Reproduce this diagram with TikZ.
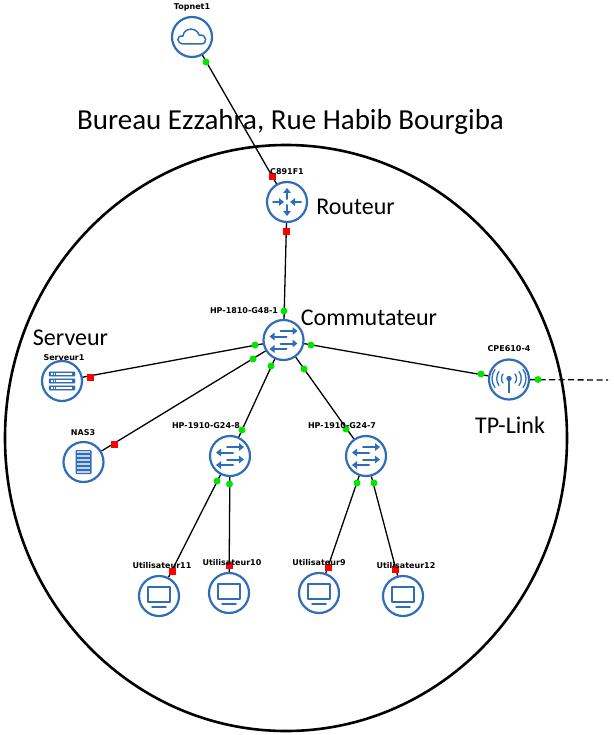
\documentclass[tikz,border=0pt]{standalone}
\usepackage{fontspec}
\setmainfont{Carlito}
\newfontfamily\labfont{DejaVu Sans}
\usetikzlibrary{arrows.meta}
\definecolor{ringblue}{HTML}{2F6DB8}
\tikzset{
  x=1pt,y=-1pt,
  device/.style={circle,draw=ringblue,fill=white,line width=2.2pt,minimum size=40pt,inner sep=0pt},
  link/.style={draw=black,line width=1.3pt},
  up/.style={circle,fill=green!90!black,draw=none,minimum size=7pt,inner sep=0pt},
  down/.style={rectangle,fill=red,draw=none,minimum size=7pt,inner sep=0pt},
  tag/.style={font=\labfont\bfseries\fontsize{8}{9}\selectfont,inner sep=0pt},
  big/.style={font=\fontsize{24}{28}\selectfont,inner sep=0pt},
  ico/.style={draw=ringblue,line width=1.5pt,line cap=round,line join=round},
  tip/.style={-{Triangle[length=5pt,width=7.5pt]},ringblue},
  pics/cloudico/.style={code={
    \draw[ico] (-8,7) .. controls (-16,7) and (-16,-2) .. (-9,-1)
      .. controls (-8,-10) and (5,-10) .. (7,-2)
      .. controls (15,-3) and (16,7) .. (9,7) -- cycle;}},
  pics/routerico/.style={code={
    \draw[ico,tip,line width=2pt] (0,-3) -- (0,-14);
    \draw[ico,tip,line width=2pt] (0,3) -- (0,14);
    \draw[ico,tip,line width=2pt] (-14,0) -- (-3,0);
    \draw[ico,tip,line width=2pt] (14,0) -- (3,0);}},
  pics/switchico/.style={code={
    \draw[ico,tip,line width=2pt] (-3,-9) -- (14,-9);
    \draw[ico,tip,line width=2pt] (3,-3.5) -- (-14,-3.5);
    \draw[ico,tip,line width=2pt] (-3,3.5) -- (14,3.5);
    \draw[ico,tip,line width=2pt] (3,9) -- (-14,9);}},
  pics/serverico/.style={code={
    \foreach \yy in {-7,0,7}{
      \draw[ringblue,fill=ringblue,rounded corners=.6pt] (-13,\yy-2.2) rectangle (13,\yy+2.2);
      \fill[white] (-6,\yy-.8) rectangle (10,\yy+.8);
      \fill[white] (-11,\yy-.8) rectangle (-9.5,\yy+.8);
      \fill[white] (-8.5,\yy-.8) rectangle (-7,\yy+.8);}}},
  pics/nasico/.style={code={
    \fill[ringblue,rounded corners=.8pt] (-8,-12) rectangle (8,12);
    \foreach \yy in {-10,-6,-2,2,6,10}{\fill[white!70!ringblue] (-6.5,\yy-1.2) rectangle (6.5,\yy+1.2);}}},
  pics/monitorico/.style={code={
    \draw[ico] (-11,-9) rectangle (11,6);
    \draw[ico] (-7,11) -- (7,11);}},
  pics/wifiico/.style={code={
    \fill[ringblue] (0,-1) circle (2.7);
    \draw[ringblue,line width=2pt] (0,-1) -- (0,13);
    \foreach \rr/\hh/\cc in {6/4.5/8,10/7/13,14/9/18}{
      \draw[ico,line width=1.3pt] (\rr,-1-\hh) .. controls (\cc,-1-\hh/2) and (\cc,-1+\hh/2) .. (\rr,-1+\hh);
      \draw[ico,line width=1.3pt] (-\rr,-1-\hh) .. controls (-\cc,-1-\hh/2) and (-\cc,-1+\hh/2) .. (-\rr,-1+\hh);}}}
}
\begin{document}
\begin{tikzpicture}
\useasboundingbox (0,0) rectangle (613,735);
% enclosing site outline
\draw[black,line width=2.6pt] (286,438) ellipse [x radius=281,y radius=293];
% devices
\node[device] (topnet) at (192,37) {};
\node[device] (router) at (287,202) {};
\node[device] (core) at (283.5,340) {};
\node[device] (srv) at (62,381) {};
\node[device] (nas) at (83.5,462) {};
\node[device] (swa) at (230,456) {};
\node[device] (swb) at (366,456) {};
\node[device] (cpe) at (509,379.5) {};
\node[device] (ua) at (159,596) {};
\node[device] (ub) at (229,593) {};
\node[device] (uc) at (319,593) {};
\node[device] (ud) at (403,596) {};
\coordinate (wan) at (608,380);
% connectors
\path[link] (topnet) -- (router);
\path[link] (router) -- (core);
\path[link] (core) -- (srv);
\path[link] (core) -- (nas);
\path[link] (core) -- (swa);
\path[link] (core) -- (swb);
\path[link] (core) -- (cpe);
\path[link] (swa) -- (ua);
\path[link] (swa) -- (ub);
\path[link] (swb) -- (uc);
\path[link] (swb) -- (ud);
\draw[black,line width=1.3pt,dash pattern=on 6pt off 3.5pt] (cpe) -- (wan);
% icons
\pic at (topnet) {cloudico};
\pic at (router) {routerico};
\pic at (core) {switchico};
\pic at (swa) {switchico};
\pic at (swb) {switchico};
\pic at (srv) {serverico};
\pic at (nas) {nasico};
\pic at (ua) {monitorico};
\pic at (ub) {monitorico};
\pic at (uc) {monitorico};
\pic at (ud) {monitorico};
\pic at (cpe) {wifiico};
% port markers
\node[up] (p1) at (206,62) {};
\node[down] (p2) at (272.5,177) {};
\node[down] (p3) at (286,231) {};
\node[up] (p4) at (284,311) {};
\node[up] (p5) at (255,345) {};
\node[down] (p6) at (90,377) {};
\node[up] (p7) at (253,359) {};
\node[down] (p8) at (114,444) {};
\node[up] (p9) at (271,366) {};
\node[up] (p10) at (242,430) {};
\node[up] (p11) at (304,369) {};
\node[up] (p12) at (346,429) {};
\node[up] (p13) at (311,345) {};
\node[up] (p14) at (481,374) {};
\node[up] (p15) at (538,379.5) {};
\node[up] (p16) at (217,481) {};
\node[up] (p17) at (229.5,484) {};
\node[up] (p18) at (357,483) {};
\node[up] (p19) at (374,483) {};
\node[down] (p20) at (172,571) {};
\node[down] (p21) at (229,565) {};
\node[down] (p22) at (328,567) {};
\node[down] (p23) at (395,569) {};
% device labels
\node[tag] (t1) at (192,7) {Topnet1};
\node[tag] (t2) at (287,172) {C891F1};
\node[tag] (t3) at (244,310.5) {HP-1810-G48-1};
\node[tag] (t4) at (64,357.5) {Serveur1};
\node[tag] (t5) at (83,433) {NAS3};
\node[tag] (t6) at (206,425.5) {HP-1910-G24-8};
\node[tag] (t7) at (342,425.5) {HP-1910-G24-7};
\node[tag] (t8) at (509,349) {CPE610-4};
\node[tag] (t9) at (162,565.5) {Utilisateur11};
\node[tag] (t10) at (232,563) {Utilisateur10};
\node[tag] (t11) at (319,563) {Utilisateur9};
\node[tag] (t12) at (406,565.5) {Utilisateur12};
% annotations
\node[big,font=\fontsize{29}{33}\selectfont] (title) at (290.5,122) {Bureau Ezzahra, Rue Habib Bourgiba};
\node[big] (a1) at (355.5,207) {Routeur};
\node[big] (a2) at (369,318) {Commutateur};
\node[big] (a3) at (70.5,338) {Serveur};
\node[big] (a4) at (510,425) {TP-Link};
\end{tikzpicture}
\end{document}
